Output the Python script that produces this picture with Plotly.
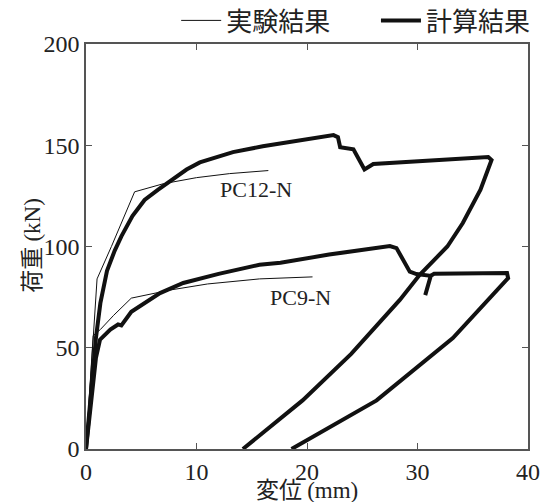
import plotly.graph_objects as go

# Experimental results (thin)
pc12_exp_x = [0, 1.0, 2.3, 4.4, 7.0, 10.0, 13.0, 16.5]
pc12_exp_y = [0, 84, 100, 127, 131, 134, 136, 137.5]
pc9_exp_x = [0, 0.65, 1.3, 2.5, 4.1, 7.6, 11.0, 15.7, 20.5]
pc9_exp_y = [0, 56, 59, 66, 74.5, 78.5, 81.5, 84, 85]

# Calculated results (thick)
pc12_calc_x = [0, 0.5, 0.9, 1.3, 1.9, 2.6, 3.2, 4.2, 5.3, 6.5, 7.6, 9.1, 10.3, 12.1,
               13.3, 16.0, 19.4, 22.4, 22.8, 23.0, 24.2, 25.2, 26.0, 31.4, 36.4, 36.7,
               35.7, 34.1, 32.7, 30.2, 28.4, 24.0, 19.6, 14.2]
pc12_calc_y = [0, 30, 55, 72, 88, 98, 105, 115, 123, 128, 132, 138, 141.5, 144.5,
               146.6, 149.5, 152.6, 155, 154, 149, 148, 138, 140.7, 142.7, 144.2, 142.7,
               128, 111.6, 100, 86, 73.6, 47, 24, 0]
pc9_calc_x = [0, 0.5, 0.9, 1.27, 2.2, 2.9, 3.2, 4.1, 5.5, 6.7, 8.8, 12.0, 15.7, 17.6,
              22.0, 27.5, 28.1, 29.3, 29.9, 31.2, 30.7, 31.2, 31.5, 35.0, 38.1, 38.2,
              35.8, 33.2, 26.3, 18.6]
pc9_calc_y = [0, 25, 45, 54, 59, 61.5, 61, 67.8, 73, 77, 82, 86.5, 91, 92,
              96, 100.2, 99.2, 87.6, 86.4, 85.5, 76, 85.5, 86.5, 86.6, 86.9, 84.4,
              70, 54.8, 24, 0]

x_ticks = [0, 10, 20, 30, 40]
y_ticks = [0, 50, 100, 150, 200]

SERIF = "Liberation Serif, Times New Roman, serif"
SANS = "Noto Sans CJK JP, sans-serif"

fig = go.Figure()
fig.add_trace(go.Scatter(x=pc12_exp_x, y=pc12_exp_y, mode="lines",
                         line=dict(color="#111", width=1), name="実験結果",
                         legend="legend"))
fig.add_trace(go.Scatter(x=pc9_exp_x, y=pc9_exp_y, mode="lines",
                         line=dict(color="#111", width=1), name="実験結果",
                         showlegend=False))
fig.add_trace(go.Scatter(x=pc12_calc_x, y=pc12_calc_y, mode="lines",
                         line=dict(color="#111", width=4), name="計算結果",
                         legend="legend2"))
fig.add_trace(go.Scatter(x=pc9_calc_x, y=pc9_calc_y, mode="lines",
                         line=dict(color="#111", width=4), name="計算結果",
                         showlegend=False))

fig.add_annotation(x=11.9, y=128, text="PC12-N", showarrow=False, xanchor="left",
                   font=dict(family=SERIF, size=22, color="#222"))
fig.add_annotation(x=16.5, y=75, text="PC9-N", showarrow=False, xanchor="left",
                   font=dict(family=SERIF, size=22, color="#222"))

# axis titles as annotations for precise placement
fig.add_annotation(xref="paper", yref="paper", x=0.5, y=-0.097, xanchor="center",
                   yanchor="middle", showarrow=False,
                   text="変位 <span style='font-family:Liberation Serif'>(mm)</span>",
                   font=dict(family=SANS, size=23, color="#222"))
fig.add_annotation(xref="paper", yref="paper", x=-0.127, y=0.504, xanchor="center",
                   yanchor="middle", showarrow=False, textangle=-90,
                   text="荷重 <span style='font-family:Liberation Serif'>(kN)</span>",
                   font=dict(family=SANS, size=23, color="#222"))

leg_common = dict(orientation="h", yanchor="bottom", y=1.0, xanchor="right",
                  font=dict(family=SANS, size=26, color="#222"),
                  bgcolor="rgba(0,0,0,0)", itemwidth=40)

fig.update_layout(
    width=543, height=502,
    margin=dict(l=86, r=15, t=44, b=53, autoexpand=False),
    paper_bgcolor="white", plot_bgcolor="white",
    showlegend=True,
    legend=dict(x=0.566, **leg_common),
    legend2=dict(x=1.018, **leg_common),
    xaxis=dict(range=[0, 40], tickvals=x_ticks, ticks="inside", ticklen=6,
               tickcolor="#555", showgrid=False, zeroline=False, automargin=False,
               showline=True, linecolor="#555", linewidth=1.5, mirror="ticks",
               tickfont=dict(family=SERIF, size=24, color="#222")),
    yaxis=dict(range=[0, 200], tickvals=y_ticks, ticks="inside", ticklen=6,
               tickcolor="#555", showgrid=False, zeroline=False, automargin=False,
               showline=True, linecolor="#555", linewidth=1.5, mirror="ticks",
               tickfont=dict(family=SERIF, size=24, color="#222")),
)

fig.write_html("out.html", config={"displayModeBar": False},
               post_script="document.body.style.margin='0';")
